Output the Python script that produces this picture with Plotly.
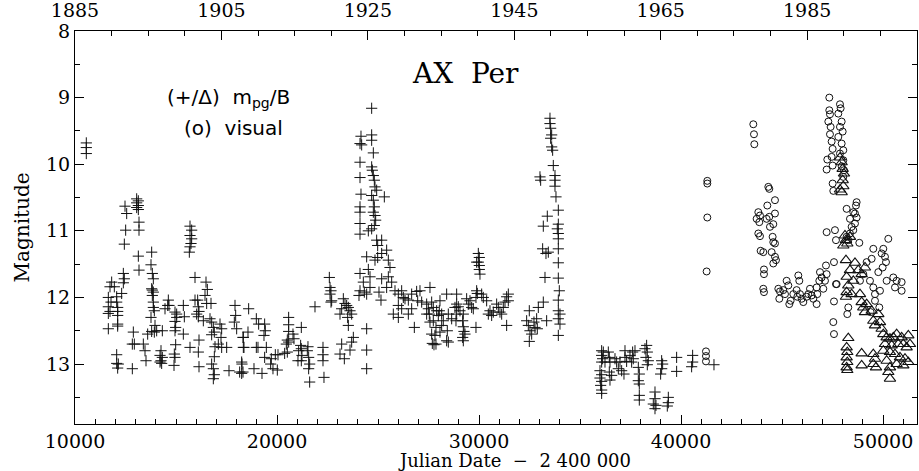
import plotly.graph_objects as go

# ---- data (JD-2400000, magnitude) ----
plus_jd = [10560, 10560, 10560,
 11815, 11947, 11733, 11650, 12063, 11782, 12063, 11650, 12112, 11733, 12112, 11650, 12112, 11650, 12112, 12112,
 12063, 12063, 12145, 12112, 12310, 12393, 12442, 12393, 12475, 12558, 12508, 12442,
 13053, 13135, 13053, 13135, 13053, 13135, 13168, 13168, 13135, 13168,
 13795, 13762, 13828, 13878, 13795, 13828, 13878, 13828, 13878, 13878, 13927, 13762, 13960, 13927, 13795, 13597, 14323, 14043,
 12888, 12838, 12937, 13383, 13465, 13515, 12838,
 14257, 14208, 14323, 14257, 14208, 14290,
 14620, 14587, 14653, 14455, 14950, 15033, 15033, 14950, 14983, 14950, 15363, 15412, 15363, 14983, 14917, 14950, 14901,
 15693, 15775, 15693, 15775, 15742, 15693, 15660,
 15940, 16485, 16551, 16435, 15940, 16072, 16105, 16138, 16023, 16105, 16353, 16518, 16732, 16683, 16765, 16848, 16897,
 16765, 17178, 17260, 17227, 17095, 16930, 17260, 17508, 15693, 16138, 16105, 16138, 16897, 16765, 16848, 16897, 16848,
 17623, 18250, 17920, 17953, 17887, 18003, 18333, 18333, 18250,
 18596, 18316, 18365, 18266, 18316, 18151, 18563, 18976, 19091, 18976, 19058, 18860, 19256, 19388, 19421, 19355, 19471,
 19388, 19718, 19685, 19800, 20015, 19916, 20048, 20378, 20510, 20576, 20576, 20576, 20510, 20576, 20461, 20790, 20840,
 21203, 21170, 21203, 21071, 21236, 21038, 21203, 21533, 21500, 21566, 21616, 21566, 21616, 22276, 22276, 22276, 22325, 21880,
 22590, 22623, 22672, 22623, 22705, 22672,
 23283, 23365, 23448, 23530, 23613, 23695, 23200, 23118, 23497, 23530, 23778, 23695, 23613, 23200, 23118, 23332, 24438, 24438, 24438,
 24685, 24157, 24108, 24190, 24685, 24685, 24768, 24108, 24108, 24157, 24108, 24108, 24108, 24108, 24685, 24718, 24768,
 24817, 24850, 24933, 24685, 25312, 24768, 24817, 24768, 24850, 24883, 24817, 24685, 24520, 24933, 25180, 24982, 25427,
 25180, 24982, 24850, 24438, 25510, 24520, 25592, 24108, 24273, 24603, 25180, 25510, 25675, 24108, 24438, 24603, 25048,
 25147, 25427, 25840, 26005, 26170, 26252, 26335, 26500, 26665, 26912, 27077, 26962, 27160, 26005, 26170, 26500, 26665,
 25757, 26005, 26797, 27407, 27572, 27655, 27688, 24058, 24322,
 27572, 27655, 27407, 27490, 27539, 27737, 27902, 27737, 27985, 28067, 28034, 28150, 28232, 28150, 28067, 27869, 27820,
 27770, 27869, 28397, 28480, 28430, 28480, 28397, 28645, 28810, 28892, 28975, 28892, 28892, 28859, 29057, 29222, 29189,
 29222, 29255, 29189, 29222, 29305, 29387, 29470, 29552, 29635, 29717, 29849, 29849, 29915, 29965, 30014, 29965, 30014,
 30014, 30047, 29882, 29882, 30130, 30212, 30377, 30460, 30542, 30625, 30707, 30872, 30955, 31037, 31120, 31202, 31285,
 31367, 31450, 31367, 31450,
 32489, 32357, 32440, 32522, 32489, 32605, 32720, 32770, 32885, 32852, 32935, 33182, 33347, 33017, 33050, 33182, 33149,
 33265, 33314, 33380, 33430, 33512, 33512, 33545, 33595, 33545, 33595, 33644, 33677, 33760, 33760, 33760, 33809, 33925,
 33925, 33875, 33925, 33925, 33925, 33925, 33925, 33974, 33925, 33925, 34007, 33925, 34007, 33925,
 36070, 36152, 36070, 36119, 36070, 36235, 35987, 36070, 35987, 36070, 36020, 36070, 36070, 36400, 36449, 36482, 36449,
 36565, 36482, 36730, 36812, 36895, 36977, 37060, 37225, 37225, 37175, 37307, 37472, 37604, 37637, 37720, 37555, 37885,
 37934, 37885, 37934, 38214, 38297, 38330, 38264, 38380, 38330, 37934, 37934, 38710, 38710, 38627, 38759, 38710, 39370,
 39370, 39320, 39040, 39089, 39040, 38990, 39782, 39782, 40574, 40574, 40524, 41630]
plus_mag = [9.68, 9.75, 9.84,
 11.77, 11.84, 11.84, 12.00, 11.99, 12.07, 12.07, 12.14, 12.15, 12.21, 12.21, 12.24, 12.27, 12.47, 12.40, 12.43,
 12.86, 12.99, 13.00, 13.06, 11.94, 11.78, 11.72, 11.64, 10.63, 10.74, 10.99, 11.20,
 10.52, 10.55, 10.58, 10.62, 10.65, 10.68, 10.87, 10.99, 11.38, 11.59,
 11.32, 11.51, 11.64, 11.72, 11.87, 11.89, 11.92, 11.97, 12.07, 12.15, 12.20, 12.30, 12.42, 12.52, 12.51, 12.55, 12.50, 12.50,
 12.52, 12.70, 12.70, 12.70, 12.80, 12.95, 13.07,
 12.80, 12.87, 12.90, 12.95, 12.97, 12.99,
 12.04, 12.12, 12.12, 12.17, 12.22, 12.25, 12.30, 12.36, 12.45, 12.50, 12.12, 12.29, 12.55, 12.71, 12.85, 12.90, 13.02,
 10.93, 10.99, 11.07, 11.12, 11.19, 11.24, 11.32,
 11.70, 11.77, 11.88, 11.97, 12.04, 12.04, 12.14, 12.21, 12.25, 12.29, 12.35, 12.09, 12.09, 12.32, 12.37, 12.45, 12.52,
 12.56, 12.40, 12.47, 12.60, 12.70, 12.74, 12.75, 12.75, 12.75, 12.64, 12.82, 13.04, 12.89, 13.00, 13.07, 13.16, 13.22,
 13.10, 13.14, 12.12, 12.27, 12.37, 12.47, 12.60, 12.75, 12.97,
 12.17, 12.60, 12.75, 13.00, 13.12, 13.12, 12.52, 12.32, 12.40, 12.75, 12.75, 13.07, 13.14, 12.40, 12.50, 12.57, 12.75,
 12.90, 12.92, 13.00, 13.07, 13.09, 12.86, 12.86, 12.84, 12.82, 12.30, 12.41, 12.51, 12.64, 12.67, 12.70, 12.55, 12.62,
 12.45, 12.72, 12.77, 12.80, 12.87, 12.95, 12.95, 12.74, 12.80, 12.90, 13.00, 13.07, 13.27, 12.75, 12.86, 12.95, 13.20, 12.14,
 11.70, 11.85, 11.90, 11.95, 12.05, 12.07,
 12.02, 12.09, 12.12, 12.15, 12.20, 12.25, 12.17, 12.25, 12.30, 12.42, 12.60, 12.67, 12.79, 12.70, 12.85, 12.92, 12.47, 12.79, 13.07,
 9.16, 9.58, 9.69, 9.71, 9.56, 9.64, 9.83, 9.97, 10.20, 10.45, 10.64, 10.72, 10.89, 11.05, 10.04, 10.09, 10.17,
 10.24, 10.34, 10.39, 10.47, 10.49, 10.54, 10.64, 10.72, 10.77, 10.84, 10.92, 10.97, 11.00, 11.14, 11.14, 11.22, 11.29,
 11.34, 11.40, 11.44, 11.39, 11.44, 11.58, 11.55, 11.64, 11.77, 11.69, 11.72, 11.69, 11.77, 11.90, 11.95, 11.85, 11.92,
 12.04, 11.85, 11.90, 11.95, 11.90, 12.00, 12.02, 12.04, 11.95, 11.91, 11.90, 12.05, 12.07, 12.12, 12.17, 12.25, 12.17,
 12.25, 12.30, 12.45, 12.25, 12.37, 12.55, 12.69, 11.97, 11.92,
 11.85, 12.07, 12.10, 12.17, 12.25, 12.15, 12.20, 12.35, 12.27, 12.05, 12.20, 12.25, 12.35, 12.42, 12.52, 12.45, 12.57,
 12.71, 12.70, 11.95, 12.25, 12.50, 12.67, 12.65, 12.32, 12.15, 12.10, 12.14, 11.95, 12.25, 12.35, 12.20, 12.25, 12.35,
 12.44, 12.51, 12.60, 12.65, 12.55, 12.02, 12.10, 12.05, 12.15, 12.17, 12.45, 12.00, 11.94, 11.34, 11.40, 11.47, 11.52,
 11.58, 11.65, 11.47, 11.90, 11.95, 12.00, 12.05, 12.25, 12.20, 12.27, 12.22, 12.10, 12.15, 12.22, 12.25, 12.15, 12.07,
 11.99, 11.95, 12.42, 12.05,
 12.20, 12.35, 12.42, 12.50, 12.66, 12.55, 12.37, 12.45, 12.47, 12.32, 12.15, 12.07, 12.35, 10.19, 10.24, 10.93, 11.27,
 11.70, 11.34, 10.78, 11.32, 9.31, 9.39, 9.46, 9.56, 9.61, 9.74, 9.79, 10.02, 10.17, 10.24, 10.33, 10.49, 10.69,
 10.90, 10.97, 11.04, 11.12, 11.27, 11.48, 11.71, 11.90, 12.04, 12.20, 12.25, 12.32, 12.40, 12.57,
 12.80, 12.82, 12.87, 12.92, 12.97, 12.97, 13.10, 13.16, 13.21, 13.26, 13.32, 13.39, 13.44, 12.82, 12.90, 12.97, 13.12,
 13.17, 13.24, 12.92, 12.97, 13.07, 12.97, 13.10, 12.80, 12.90, 13.15, 12.96, 12.87, 12.82, 12.92, 12.80, 12.97, 13.05,
 13.15, 13.25, 13.30, 12.77, 12.72, 12.82, 12.90, 12.95, 13.01, 13.47, 13.54, 13.42, 13.52, 13.60, 13.62, 13.67, 13.50,
 13.58, 13.63, 12.95, 13.00, 13.07, 13.15, 12.90, 13.11, 12.87, 12.97, 13.04, 13.01]

visual_jd = [41234, 41234, 41234, 41300, 41300, 41300, 41267, 43577, 43610, 43627,
 44320, 44369, 43825, 43907, 43742, 43874, 44237, 44369, 44402, 44270, 44650, 44650, 44567, 44534, 44567, 44650,
 43825, 43907, 43940, 44072, 44485, 44650, 44699, 44567, 44105, 44105, 44072, 44105,
 44815, 44897, 44864, 45062, 45145, 45227, 45310, 45359, 45425, 45557, 45722, 45755, 45805, 45854, 45887, 45970,
 46052, 46217, 46300, 46382, 46465, 46547, 46712, 46745, 46712, 46844, 46877, 46960, 47042, 47125, 47207, 47174,
 47570, 47669, 47570, 47537, 47570, 47207, 47619, 47669,
 47339, 47339, 47372, 47290, 47405, 47372, 47454, 47504, 47454, 47240, 47207, 47504, 47504, 47537, 47867, 47900,
 47785, 47950, 47867, 48000, 47785, 47950, 48032, 47867, 48032, 47950, 48065, 48032,
 48197, 48362, 48444, 48527, 48610, 48659, 48692, 48527, 48610, 48362, 48197, 48279, 48825, 48692,
 50260, 49517, 50012, 49930, 49435, 49187, 50095, 50145, 49979, 49765, 50507, 50672, 50920, 50920, 50590, 50177,
 49847, 49600, 49517, 49352, 49022, 48857, 49600, 49814, 49385, 48279, 48230, 47702]
visual_mag = [12.81, 12.88, 12.96, 10.25, 10.29, 10.80, 11.61, 9.40, 9.55, 9.70,
 10.34, 10.37, 10.72, 10.77, 10.82, 10.87, 10.82, 10.79, 10.94, 10.62, 10.54, 10.74, 10.90, 11.09, 11.17, 11.19,
 11.04, 11.08, 11.30, 11.32, 11.32, 11.39, 11.44, 11.49, 11.58, 11.65, 11.87, 11.92,
 11.87, 11.91, 12.02, 11.89, 11.95, 11.75, 11.82, 12.10, 12.05, 11.95, 11.89, 11.99, 11.67, 11.75, 11.95, 12.02,
 12.07, 11.99, 11.95, 11.87, 11.97, 12.02, 12.10, 11.95, 11.85, 11.75, 11.62, 11.70, 11.87, 11.75, 11.65, 11.52,
 11.47, 11.80, 12.06, 12.37, 12.55, 11.02, 10.99, 11.14,
 9.00, 9.19, 9.25, 9.36, 9.44, 9.55, 9.66, 9.77, 9.89, 9.93, 10.08, 10.02, 10.29, 10.40, 9.10, 9.16,
 9.24, 9.36, 9.44, 9.51, 9.59, 9.69, 9.79, 9.84, 9.94, 10.03, 10.09, 10.19,
 10.67, 10.82, 10.94, 10.99, 10.74, 10.62, 10.57, 10.72, 10.89, 11.04, 11.09, 11.14, 11.18, 10.80,
 11.12, 11.27, 11.27, 11.34, 11.42, 11.47, 11.39, 11.47, 11.55, 11.62, 11.70, 11.75, 11.77, 11.90, 11.85, 11.75,
 11.90, 11.95, 11.85, 11.75, 11.65, 11.75, 12.05, 12.15, 12.22, 12.15, 12.25, 11.80]

tri_jd = [47867, 47950, 48000, 48065, 48000, 47867, 47950, 48032,
 48115, 48164, 48230, 48362, 48032,
 48164, 48610, 48362, 48197, 48279, 48527, 48775, 48940, 49105, 48197, 48164, 48444, 48857, 48940, 49022, 49105,
 49187, 49435, 49517, 49600, 49765, 49847, 49930, 50012, 50177, 50342, 50507, 50672, 50920, 51250, 51332, 51167,
 51002, 50755, 50425, 50095, 50012, 50342, 50590, 50837, 51085, 51250, 51002, 50672, 50342, 50260, 50342, 50177,
 48279, 48197, 48230, 48197, 48230, 48197, 48230, 48940, 48940, 49517, 49600, 49517, 49649]
tri_mag = [9.90, 9.97, 10.07, 10.14, 10.24, 10.38, 10.42, 10.33,
 11.07, 11.14, 11.19, 11.09, 11.22,
 11.44, 11.48, 11.59, 11.69, 11.82, 11.75, 11.59, 11.65, 11.55, 11.92, 11.99, 11.95, 11.95, 12.07, 12.15, 12.22,
 12.10, 12.20, 12.35, 12.42, 12.25, 12.37, 12.47, 12.55, 12.60, 12.62, 12.60, 12.55, 12.60, 12.57, 12.70, 12.75,
 12.70, 12.70, 12.72, 12.70, 12.80, 12.82, 12.85, 12.90, 12.92, 12.97, 13.02, 13.00, 13.05, 13.12, 13.22, 12.95,
 12.61, 12.75, 12.82, 12.90, 12.97, 13.05, 13.09, 12.84, 13.02, 12.85, 12.92, 13.00, 13.05]

jd_ticks = [10000, 20000, 30000, 40000, 50000]
jd_labels = ["10000", "20000", "30000", "40000", "50000"]
year_ticks = [1885, 1905, 1925, 1945, 1965, 1985]
year_labels = ["1885", "1905", "1925", "1945", "1965", "1985"]
mag_ticks = [8, 9, 10, 11, 12, 13]
mag_labels = ["8", "9", "10", "11", "12", "13"]

INK = "#111111"
SERIF = "DejaVu Serif"
TICKFONT = dict(family=SERIF, size=19, color="black")

fig = go.Figure()
fig.add_trace(go.Scatter(x=plus_jd, y=plus_mag, mode="markers",
    marker=dict(symbol="cross-thin-open", size=8, color=INK, line=dict(color=INK, width=1)),
    showlegend=False, hoverinfo="skip"))
fig.add_trace(go.Scatter(x=visual_jd, y=visual_mag, mode="markers",
    marker=dict(symbol="circle-open", size=7, color=INK, line=dict(color=INK, width=1)),
    showlegend=False, hoverinfo="skip"))
fig.add_trace(go.Scatter(x=tri_jd, y=tri_mag, mode="markers",
    marker=dict(symbol="triangle-up-open", size=10, color=INK, line=dict(color=INK, width=1.1)),
    showlegend=False, hoverinfo="skip"))
# empty trace so that the top (calendar-year) axis is drawn
fig.add_trace(go.Scatter(x=year_ticks, y=[None] * len(year_ticks), xaxis="x2", yaxis="y",
    mode="markers", showlegend=False, hoverinfo="skip"))

def axis_common():
    return dict(showgrid=False, zeroline=False, showline=True, linecolor="black",
                linewidth=1, ticks="inside", tickcolor="black", tickwidth=1,
                tickfont=TICKFONT, automargin=False)

fig.update_layout(
    width=919, height=471,
    margin=dict(l=75, r=2, t=31, b=47),
    paper_bgcolor="white", plot_bgcolor="white",
    xaxis=dict(range=[10000, 51680], tickvals=jd_ticks, ticktext=jd_labels, ticklen=9,
               minor=dict(dtick=1000, ticklen=5, ticks="inside", tickcolor="black"),
               **axis_common()),
    xaxis2=dict(range=[1885, 2000], tickvals=year_ticks, ticktext=year_labels, ticklen=9,
                overlaying="x", side="top", anchor="y", ticklabelstandoff=5,
                minor=dict(dtick=5, ticklen=5, ticks="inside", tickcolor="black"),
                **axis_common()),
    yaxis=dict(range=[13.9, 8], tickvals=mag_ticks, ticktext=mag_labels, ticklen=9, mirror="ticks",
               minor=dict(dtick=0.5, ticklen=5, ticks="inside", tickcolor="black"),
               **axis_common()),
)

def note(text, x, y, size, family, angle=0):
    fig.add_annotation(text=text, xref="paper", yref="paper", x=x, y=y,
                       xanchor="center", yanchor="middle", textangle=angle,
                       showarrow=False, font=dict(family=family, size=size, color="black"))

note("AX&nbsp;&nbsp;Per", 0.464, 0.893, 28, SERIF)
note("(+/Δ)&nbsp;&nbsp;m<sub>pg</sub>/B", 0.182, 0.83, 20, "DejaVu Sans")
note("(o)&nbsp;&nbsp;visual", 0.188, 0.753, 20, "DejaVu Sans")
note("Magnitude", -0.063, 0.5, 20, SERIF, angle=-90)
note("Julian&nbsp;Date&nbsp;&nbsp;−&nbsp;&nbsp;2&nbsp;400&nbsp;000", 0.522, -0.093, 18, SERIF)

# remove the browser's default 8px page margin so the 919x471 figure fills the window
fig.write_html("out.html", config={"displayModeBar": False},
               post_script="document.body.style.margin='0px';")
